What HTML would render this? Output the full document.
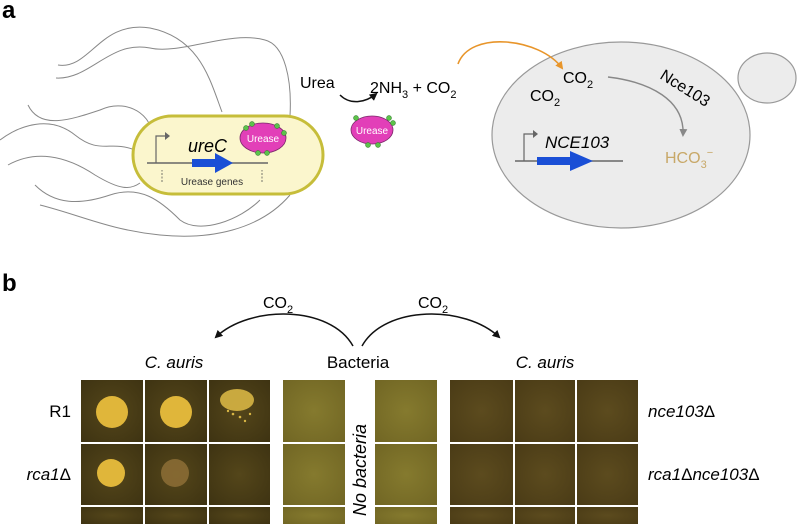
<!DOCTYPE html>
<html><head><meta charset="utf-8"><style>
html,body{margin:0;padding:0;background:#fff;}
svg{display:block;font-family:"Liberation Sans",sans-serif;}
</style></head><body>
<svg width="800" height="524" viewBox="0 0 800 524" xmlns="http://www.w3.org/2000/svg">
<defs>
<marker id="ah" markerWidth="8" markerHeight="8" refX="6" refY="4" orient="auto" markerUnits="userSpaceOnUse"><path d="M0,0 L8,4 L0,8 z" fill="#111"/></marker>
<marker id="ahg" markerWidth="8" markerHeight="8" refX="6" refY="4" orient="auto" markerUnits="userSpaceOnUse"><path d="M0,0 L8,4 L0,8 z" fill="#888"/></marker>
<marker id="aho" markerWidth="8" markerHeight="8" refX="6" refY="4" orient="auto" markerUnits="userSpaceOnUse"><path d="M0,0 L8,4 L0,8 z" fill="#e8952a"/></marker>
<radialGradient id="gl" cx="50%" cy="50%" r="70%"><stop offset="0" stop-color="#54461a"/><stop offset="1" stop-color="#3e3312"/></radialGradient>
<radialGradient id="gm" cx="50%" cy="50%" r="70%"><stop offset="0" stop-color="#857a2e"/><stop offset="1" stop-color="#716624"/></radialGradient>
<radialGradient id="gr" cx="50%" cy="50%" r="70%"><stop offset="0" stop-color="#5c4b1e"/><stop offset="1" stop-color="#4a3b16"/></radialGradient>
</defs>
<text x="2" y="18" font-size="24" font-weight="bold">a</text>
<!-- flagella -->
<g fill="none" stroke="#888" stroke-width="1">
<path d="M58,65 C90,70 100,20 150,28 C200,38 210,80 222,112"/>
<path d="M56,78 C90,80 110,40 150,48 C180,55 230,30 265,40 C285,45 292,80 290,116"/>
<path d="M28,105 C40,130 70,120 100,110 C130,96 160,120 150,145"/>
<path d="M0,140 C20,125 50,115 75,135 C100,155 110,140 135,150"/>
<path d="M8,165 C35,150 65,155 95,175 C120,190 130,190 140,183"/>
<path d="M35,185 C55,205 80,205 110,195 C140,185 160,200 180,220 C200,235 240,220 260,200"/>
<path d="M40,205 C80,215 110,230 160,235 C210,240 260,230 290,195"/>
</g>
<!-- bacterium -->
<rect x="133" y="116" width="190" height="78" rx="39" ry="39" fill="#fbf6cd" stroke="#c6bd3a" stroke-width="3"/>
<line x1="147" y1="163" x2="268" y2="163" stroke="#666" stroke-width="1.5"/>
<path d="M156,163 V136 H166" fill="none" stroke="#666" stroke-width="1.2"/><path d="M165,132 L170,136 L165,140z" fill="#666"/>
<path d="M192,159 H215 V153 L233,163 L215,173 V167 H192z" fill="#1a4fd6"/>
<text x="188" y="152" font-size="18" font-style="italic">ureC</text>
<path d="M162,182 V170 M262,182 V170" stroke="#555" stroke-width="0.8" stroke-dasharray="2,1.5"/>
<text x="212" y="185" font-size="10" text-anchor="middle" fill="#333">Urease genes</text>
<g>
<ellipse cx="263" cy="138" rx="23" ry="15" fill="#e23fb8" stroke="#7a2a6a" stroke-width="0.8"/>
<text x="263" y="142" font-size="10" text-anchor="middle" fill="#fff">Urease</text>
<g fill="#5cc24a" stroke="#2f6f2a" stroke-width="0.5"><circle cx="246" cy="128" r="2.5"/><circle cx="252" cy="124" r="2.5"/><circle cx="277" cy="126" r="2.5"/><circle cx="284" cy="133" r="2.5"/><circle cx="258" cy="153" r="2.5"/><circle cx="267" cy="153" r="2.5"/></g>
</g>
<!-- middle -->
<text x="300" y="88" font-size="16">Urea</text>
<path d="M340,95 C350,105 365,103 376,94" fill="none" stroke="#111" stroke-width="1.5" marker-end="url(#ah)"/>
<text x="370" y="93" font-size="16">2NH<tspan font-size="11" dy="5">3</tspan><tspan dy="-5"> + CO</tspan><tspan font-size="11" dy="5">2</tspan></text>
<ellipse cx="372" cy="130" rx="21" ry="14" fill="#e23fb8" stroke="#7a2a6a" stroke-width="0.8"/>
<text x="372" y="134" font-size="10" text-anchor="middle" fill="#fff">Urease</text>
<g fill="#5cc24a" stroke="#2f6f2a" stroke-width="0.5"><circle cx="356" cy="118" r="2.5"/><circle cx="389" cy="118" r="2.5"/><circle cx="393" cy="123" r="2.5"/><circle cx="368" cy="145" r="2.5"/><circle cx="378" cy="145" r="2.5"/></g>
<!-- yeast -->
<ellipse cx="767" cy="78" rx="29" ry="25" fill="#ececec" stroke="#999" stroke-width="1.2"/>
<ellipse cx="621" cy="135" rx="129" ry="93" fill="#ececec" stroke="#999" stroke-width="1.2"/>
<path d="M458,64 C470,30 540,38 562,68" fill="none" stroke="#e8952a" stroke-width="1.6" marker-end="url(#aho)"/>
<text x="563" y="83" font-size="16">CO<tspan font-size="11" dy="5">2</tspan></text>
<text x="530" y="101" font-size="16">CO<tspan font-size="11" dy="5">2</tspan></text>
<path d="M608,77 C650,82 685,100 683,135" fill="none" stroke="#888" stroke-width="1.4" marker-end="url(#ahg)"/>
<text x="0" y="0" font-size="16" transform="translate(659,78) rotate(32)">Nce103</text>
<text x="665" y="163" font-size="16" fill="#c8a868">HCO<tspan font-size="11" dy="5">3</tspan><tspan font-size="11" dy="-12">−</tspan></text>
<line x1="515" y1="161" x2="623" y2="161" stroke="#666" stroke-width="1.5"/>
<path d="M524,161 V134 H534" fill="none" stroke="#666" stroke-width="1.2"/><path d="M533,130 L538,134 L533,138z" fill="#666"/>
<path d="M537,157 H570 V151 L593,161 L570,171 V165 H537z" fill="#1a4fd6"/>
<text x="545" y="148" font-size="17" font-style="italic">NCE103</text>
<!-- panel b -->
<text x="2" y="291" font-size="24" font-weight="bold">b</text>
<text x="263" y="308" font-size="16">CO<tspan font-size="11" dy="5">2</tspan></text>
<text x="418" y="308" font-size="16">CO<tspan font-size="11" dy="5">2</tspan></text>
<path d="M353,346 C330,305 250,305 216,337" fill="none" stroke="#111" stroke-width="1.5" marker-end="url(#ah)"/>
<path d="M362,346 C385,305 465,305 499,337" fill="none" stroke="#111" stroke-width="1.5" marker-end="url(#ah)"/>
<text x="174" y="368" font-size="17" text-anchor="middle"><tspan font-style="italic">C. auris</tspan></text>
<text x="358" y="368" font-size="17" text-anchor="middle">Bacteria</text>
<text x="545" y="368" font-size="17" text-anchor="middle" font-style="italic">C. auris</text>
<!-- left grid -->
<g fill="url(#gl)">
<rect x="81" y="380" width="62" height="62"/><rect x="145" y="380" width="62" height="62"/><rect x="209" y="380" width="61" height="62"/>
<rect x="81" y="444" width="62" height="61"/><rect x="145" y="444" width="62" height="61"/><rect x="209" y="444" width="61" height="61"/>
<rect x="81" y="507" width="62" height="17"/><rect x="145" y="507" width="62" height="17"/><rect x="209" y="507" width="61" height="17"/>
</g>
<circle cx="112" cy="412" r="16" fill="#e0b63a"/>
<circle cx="176" cy="412" r="16" fill="#e0b63a"/>
<ellipse cx="237" cy="400" rx="17" ry="11" fill="#d7b544" opacity="0.9"/>
<g fill="#d7b544"><circle cx="233" cy="414" r="1.3"/><circle cx="240" cy="417" r="1.3"/><circle cx="245" cy="421" r="1.2"/><circle cx="228" cy="411" r="1.2"/><circle cx="250" cy="414" r="1.2"/></g>
<circle cx="111" cy="473" r="14" fill="#e0b63a"/>
<circle cx="175" cy="473" r="14" fill="#8a6c34" opacity="0.9"/>
<!-- middle grid -->
<g fill="url(#gm)">
<rect x="283" y="380" width="62" height="62"/><rect x="375" y="380" width="62" height="62"/>
<rect x="283" y="444" width="62" height="61"/><rect x="375" y="444" width="62" height="61"/>
<rect x="283" y="507" width="62" height="17"/><rect x="375" y="507" width="62" height="17"/>
</g>
<text x="0" y="0" font-size="18" font-style="italic" text-anchor="middle" transform="translate(366,470) rotate(-90)">No bacteria</text>
<!-- right grid -->
<g fill="url(#gr)">
<rect x="450" y="380" width="63" height="62"/><rect x="515" y="380" width="60" height="62"/><rect x="577" y="380" width="61" height="62"/>
<rect x="450" y="444" width="63" height="61"/><rect x="515" y="444" width="60" height="61"/><rect x="577" y="444" width="61" height="61"/>
<rect x="450" y="507" width="63" height="17"/><rect x="515" y="507" width="60" height="17"/><rect x="577" y="507" width="61" height="17"/>
</g>
<text x="71" y="417" font-size="17" text-anchor="end">R1</text>
<text x="71" y="480" font-size="17" text-anchor="end"><tspan font-style="italic">rca1</tspan>Δ</text>
<text x="648" y="417" font-size="17"><tspan font-style="italic">nce103</tspan>Δ</text>
<text x="648" y="480" font-size="17"><tspan font-style="italic">rca1</tspan>Δ<tspan font-style="italic">nce103</tspan>Δ</text>
</svg>
</body></html>
